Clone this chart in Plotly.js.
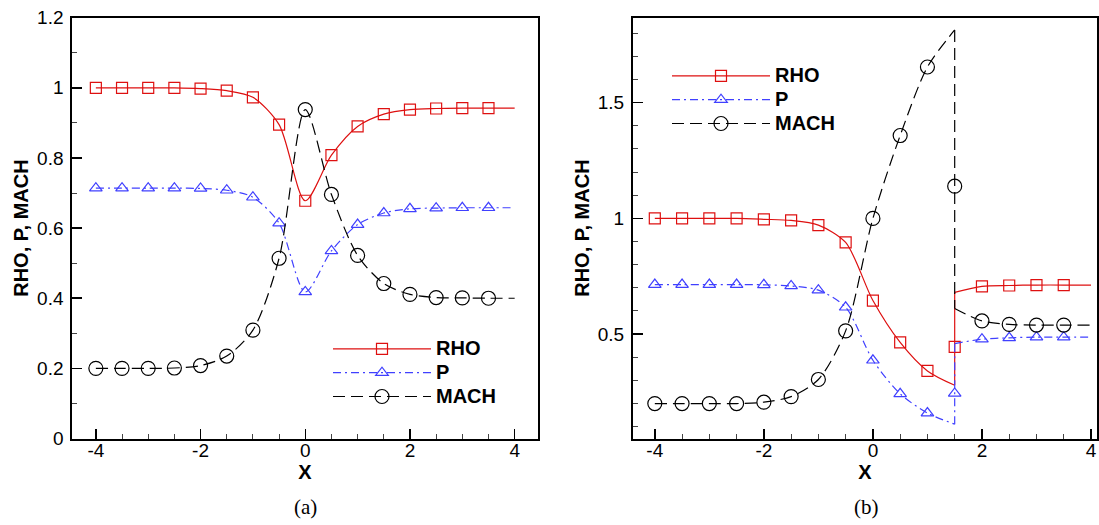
<!DOCTYPE html>
<html><head><meta charset="utf-8">
<script src="https://cdn.plot.ly/plotly-3.0.1.min.js"></script>
<style>html,body{margin:0;padding:0;background:#fff}#chart{width:1099px;height:525px}</style>
</head><body><div id="chart"></div>
<script>
// ---------- data ----------
const xMarks = [-4,-3.5,-3,-2.5,-2,-1.5,-1,-0.5,0,0.5,1,1.5,2,2.5,3,3.5];
const xEnd = 4;
const xShock = 1.5;

// panel (a)
const rhoA  = [1.0,1.0,1.0,1.0,0.998,0.992,0.973,0.895,0.678,0.808,0.890,0.925,0.938,0.941,0.942,0.942];
const pA    = [0.714,0.714,0.714,0.714,0.713,0.708,0.688,0.614,0.418,0.535,0.610,0.643,0.655,0.657,0.658,0.658];
const machA = [0.2,0.2,0.2,0.201,0.208,0.235,0.309,0.514,0.938,0.696,0.522,0.442,0.411,0.402,0.401,0.400];
const rhoAEnd = 0.942, pAEnd = 0.658, machAEnd = 0.400;

// panel (b)
const rhoB  = [1.0,1.0,1.0,1.0,0.996,0.991,0.971,0.896,0.645,0.464,0.341,0.445,0.706,0.710,0.712,0.712];
const pB    = [0.714,0.714,0.714,0.714,0.713,0.708,0.690,0.616,0.387,0.242,0.159,0.244,0.478,0.484,0.487,0.487];
const machB = [0.2,0.2,0.2,0.2,0.206,0.230,0.304,0.514,1.0,1.358,1.654,1.139,0.557,0.542,0.539,0.539];
// line values just before / just after the shock, and at x = 4
const rhoBPre = 0.279, rhoBPost = 0.680, rhoBEnd = 0.712;
const pBPre = 0.111, pBPost = 0.459, pBEnd = 0.487;
const machBPre = 1.814, machBPost = 0.611, machBEnd = 0.539;

const xTickVals = [-4,-2,0,2,4];
const xTickText = ['-4','-2','0','2','4'];
const seriesNames = ['RHO','P','MACH'];

// ---------- styles ----------
const RED = 'rgb(222,16,16)', BLUE = 'rgb(64,64,255)', BLACK = '#000';
const styles = [
  {color:RED,   dash:'solid',               symbol:'square-open',      size:11},
  {color:BLUE,  dash:'8px,4px,2px,4px',     symbol:'triangle-up-open', size:11},
  {color:BLACK, dash:'12px,6px',            symbol:'circle-open',      size:14}
];
const LW = 1.2;
const SANS = 'Liberation Sans, Arial, Helvetica, sans-serif';

const traces = [];
function lineTrace(x, y, st, xa, ya) {
  return {x:x, y:y, xaxis:xa, yaxis:ya, mode:'lines', showlegend:false, hoverinfo:'skip',
    connectgaps:false, line:{color:st.color, width:LW, dash:st.dash, shape:'spline', smoothing:0.8}};
}
function markTrace(x, y, st, xa, ya) {
  return {x:x, y:y, xaxis:xa, yaxis:ya, mode:'markers', showlegend:false, hoverinfo:'skip',
    marker:{symbol:st.symbol, size:st.size, color:st.color, line:{color:st.color, width:LW}}};
}
function legendTrace(name, st, xa, ya, lg) {
  return {x:[100], y:[100], xaxis:xa, yaxis:ya,
    name:'<span style="font-size:20px">' + name + '</span>', legend:lg, mode:'lines+markers',
    line:{color:st.color, width:LW, dash:st.dash},
    marker:{symbol:st.symbol, size:st.size, color:st.color, line:{color:st.color, width:LW}}};
}

// panel (a)
const ySetA = [[rhoA, rhoAEnd],[pA, pAEnd],[machA, machAEnd]];
ySetA.forEach((s, i) => {
  traces.push(lineTrace(xMarks.concat([xEnd]), s[0].concat([s[1]]), styles[i], 'x', 'y'));
  traces.push(markTrace(xMarks, s[0], styles[i], 'x', 'y'));
});
// panel (b)
const nPre = xMarks.indexOf(xShock);
const ySetB = [[rhoB, rhoBPre, rhoBPost, rhoBEnd],[pB, pBPre, pBPost, pBEnd],[machB, machBPre, machBPost, machBEnd]];
ySetB.forEach((s, i) => {
  const vals = s[0];
  const xl = xMarks.slice(0, nPre).concat([xShock, null, xShock]).concat(xMarks.slice(nPre+1)).concat([xEnd]);
  const yl = vals.slice(0, nPre).concat([s[1], null, s[2]]).concat(vals.slice(nPre+1)).concat([s[3]]);
  traces.push(lineTrace(xl, yl, styles[i], 'x2', 'y2'));
  const jump = lineTrace([xShock, xShock], [s[1], s[2]], styles[i], 'x2', 'y2');
  jump.line.shape = 'linear';
  traces.push(jump);
  traces.push(markTrace(xMarks, vals, styles[i], 'x2', 'y2'));
});
// legend entries
seriesNames.forEach((n, i) => traces.push(legendTrace(n, styles[i], 'x', 'y', 'legend')));
seriesNames.forEach((n, i) => traces.push(legendTrace(n, styles[i], 'x2', 'y2', 'legend2')));

// ---------- layout ----------
const W = 1099, H = 525;
function ax(extra) {
  return Object.assign({
    showgrid:false, zeroline:false, showline:true, linecolor:'#000', linewidth:2, mirror:true,
    ticks:'inside', ticklen:10, tickwidth:1.5, tickcolor:'#000', automargin:false,
    tickfont:{family:SANS, size:19, color:'#000'},
    fixedrange:true
  }, extra);
}
const titleFont = {family:SANS, size:20, color:'#000', weight:'bold'};
const yDom = [(H-438.5)/H, (H-17.7)/H];
const minorX = {tickmode:'linear', tick0:0, dtick:0.5, ticks:'inside', ticklen:5, tickwidth:1, tickcolor:'#444', showgrid:false};
const minorY = {tickmode:'linear', tick0:0, dtick:0.1, ticks:'inside', ticklen:5, tickwidth:1, tickcolor:'#444', showgrid:false};
const legendFont = {family:SANS, size:16, color:'#000', weight:'bold'};

const layout = {
  width:W, height:H, margin:{l:0,r:0,t:0,b:0},
  paper_bgcolor:'#fff', plot_bgcolor:'#fff', showlegend:true,
  xaxis: ax({domain:[72.3/W, 537.7/W], range:[-4.45,4.44], anchor:'y',
    tickmode:'array', tickvals:xTickVals, ticktext:xTickText, ticklabelstandoff:-6,
    minor:minorX, title:{text:'X', font:titleFont, standoff:0}}),
  yaxis: ax({domain:yDom, range:[0,1.2], anchor:'x', tickmode:'linear', tick0:0, dtick:0.2,
    ticklabelstandoff:3, minor:minorY, title:{text:'RHO, P, MACH', font:titleFont, standoff:3}}),
  xaxis2: ax({domain:[633/W, 1097/W], range:[-4.4,4.11], anchor:'y2',
    tickmode:'array', tickvals:xTickVals, ticktext:xTickText, ticklabelstandoff:-6,
    minor:minorX, title:{text:'X', font:titleFont, standoff:0}}),
  yaxis2: ax({domain:yDom, range:[0.049,1.867], anchor:'x2', tickmode:'linear', tick0:0, dtick:0.5,
    ticklabelstandoff:3, minor:minorY, title:{text:'RHO, P, MACH', font:titleFont, standoff:3}}),
  legend: {x:328/W, y:1-332/H, xanchor:'left', yanchor:'top', bgcolor:'rgba(0,0,0,0)', borderwidth:0,
    itemwidth:98, tracegroupgap:0, font:legendFont},
  legend2: {x:667/W, y:1-59/H, xanchor:'left', yanchor:'top', bgcolor:'rgba(0,0,0,0)', borderwidth:0,
    itemwidth:98, tracegroupgap:0, font:legendFont},
  annotations: [
    {text:'(a)', x:305/W, y:1-507/H, xref:'paper', yref:'paper', showarrow:false, xanchor:'center', yanchor:'middle',
     font:{family:'Liberation Serif, Times New Roman, serif', size:21, color:'#000'}},
    {text:'(b)', x:866/W, y:1-507/H, xref:'paper', yref:'paper', showarrow:false, xanchor:'center', yanchor:'middle',
     font:{family:'Liberation Serif, Times New Roman, serif', size:21, color:'#000'}}
  ]
};

Plotly.newPlot('chart', traces, layout, {staticPlot:true, displayModeBar:false});
</script>
</body></html>
